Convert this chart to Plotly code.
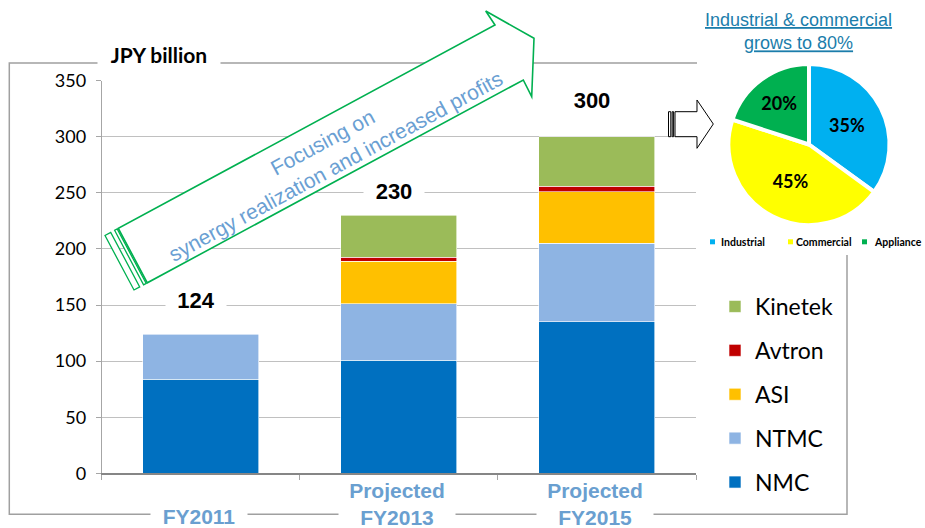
import plotly.graph_objects as go

# ---------------- data ----------------
categories = ["FY2011", "FY2013", "FY2015"]
category_labels = ["FY2011", "Projected<br>FY2013", "Projected<br>FY2015"]
nmc = [84, 101, 135]
ntmc = [40, 50, 70]
asi = [None, 38, 46]
avtron = [None, 3.5, 5]
kinetek = [None, 37.5, 44]
total_labels = ["124", "230", "300"]

pie_labels = ["Industrial", "Commercial", "Appliance"]
pie_values = [35, 45, 20]

# ---------------- helpers (pixel -> paper) ----------------
W, H = 925, 528


def fx(x):
    return x / W


def fy(y):
    return 1 - y / H


series = [
    ("NMC", nmc, "#0070C0"),
    ("NTMC", ntmc, "#8EB4E3"),
    ("ASI", asi, "#FFC000"),
    ("Avtron", avtron, "#C00000"),
    ("Kinetek", kinetek, "#9BBB59"),
]

fig = go.Figure()
for i, (name, vals, col) in enumerate(series):
    fig.add_trace(go.Bar(
        x=categories, y=vals, name=name, legendgroup=name,
        legendrank=100 - i,
        marker=dict(color=col, line=dict(color="white", width=0.6)),
        hoverinfo="skip",
    ))

fig.add_trace(go.Pie(
    labels=pie_labels, values=pie_values, sort=False, direction="clockwise",
    rotation=0,
    marker=dict(colors=["#00B0F0", "#FFFF00", "#00B050"], line=dict(color="white", width=4)),
    texttemplate="<b>%{percent:.0%}</b>", textposition="inside",
    insidetextorientation="horizontal",
    textfont=dict(family="Lato", size=18, color="black"),
    domain=dict(x=[fx(728), fx(890)], y=[fy(225), fy(64)]),
    showlegend=False, hoverinfo="skip",
))

grid_col = "#C0C0C0"
axis_col = "#A6A6A6"

fig.update_layout(
    width=W, height=H,
    margin=dict(l=0, r=0, t=0, b=0, autoexpand=False),
    paper_bgcolor="white", plot_bgcolor="rgba(0,0,0,0)",
    barmode="stack", bargap=0.414,
    showlegend=True,
    legend=dict(
        x=fx(715), xanchor="left", y=fy(285), yanchor="top",
        font=dict(family="Lato", size=23, color="black"),
        traceorder="grouped", tracegroupgap=11,
        bgcolor="rgba(0,0,0,0)",
    ),
    xaxis=dict(
        domain=[fx(101.7), fx(696)], type="category",
        showticklabels=False, showgrid=False, zeroline=False,
        showline=True, linecolor="#868686", linewidth=2,
        ticks="outside", tickson="boundaries", ticklen=5, tickcolor="#A6A6A6",
        fixedrange=True, automargin=False,
    ),
    yaxis=dict(
        domain=[fy(473.3), fy(80.7)], range=[0, 350], dtick=50,
        showgrid=True, gridcolor=grid_col, gridwidth=1, zeroline=False,
        showline=True, linecolor=axis_col, linewidth=1,
        ticks="outside", ticklen=5, tickcolor=axis_col,
        tickfont=dict(family="Lato", size=18, color="black"),
        ticklabelstandoff=6,
        fixedrange=True, automargin=False,
    ),
)

shapes = []
# chart frame
shapes.append(dict(type="rect", xref="paper", yref="paper", layer="below",
                   x0=fx(9.3), x1=fx(847), y0=fy(514.3), y1=fy(63),
                   line=dict(color="#A0A0A0", width=1.5), fillcolor="rgba(0,0,0,0)"))
# white panel behind pie (covers frame corner)
shapes.append(dict(type="rect", xref="paper", yref="paper", layer="below",
                   x0=fx(697), x1=fx(925), y0=fy(255), y1=fy(0),
                   line=dict(width=0), fillcolor="white"))


def path(pts):
    s = "M " + " L ".join(f"{fx(x):.5f},{fy(y):.5f}" for x, y in pts) + " Z"
    return s


# big green arrow
body = [(118.3, 228.3), (147.3, 282.8), (523.3, 80), (531.7, 96.7),
        (534, 38.3), (485.7, 11), (495, 25)]
shapes.append(dict(type="path", xref="paper", yref="paper", layer="above",
                   path=path(body), fillcolor="white",
                   line=dict(color="#00B050", width=1.6)))


def y_upper(x):
    return 228.3 - 0.5397 * (x - 118.3)


def stripe(xa, xb):
    v = (29.0, 54.5)
    a = (xa, y_upper(xa))
    b = (xb, y_upper(xb))
    return [a, (a[0] + v[0], a[1] + v[1]), (b[0] + v[0], b[1] + v[1]), b]


for xa, xb in [(105, 110.7), (114.6, 117.2)]:
    shapes.append(dict(type="path", xref="paper", yref="paper", layer="above",
                       path=path(stripe(xa, xb)), fillcolor="white",
                       line=dict(color="#00B050", width=1.3)))

# small black block arrow toward the pie
small = [(675, 111.7), (697, 111.7), (697, 100), (713.3, 124),
         (697, 148.3), (697, 136.7), (675, 136.7)]
shapes.append(dict(type="path", xref="paper", yref="paper", layer="above",
                   path=path(small), fillcolor="white",
                   line=dict(color="black", width=1)))
for xa, xb in [(668.5, 670.8), (672.2, 673.6)]:
    shapes.append(dict(type="rect", xref="paper", yref="paper", layer="above",
                       x0=fx(xa), x1=fx(xb), y0=fy(136.7), y1=fy(111.7),
                       fillcolor="white", line=dict(color="black", width=1)))

# pie legend swatches
pie_cols = ["#00B0F0", "#FFFF00", "#00B050"]
sw_x = [710, 788, 862]
for c, x0 in zip(pie_cols, sw_x):
    shapes.append(dict(type="rect", xref="paper", yref="paper", layer="above",
                       x0=fx(x0), x1=fx(x0 + 5), y0=fy(244.3), y1=fy(239.3),
                       fillcolor=c, line=dict(width=0)))

fig.update_layout(shapes=shapes)

C = dict(xanchor="center", yanchor="middle", showarrow=False)
ann = []
# y-axis unit title
ann.append(dict(xref="paper", yref="paper", x=fx(159), y=fy(54), text="<b>JPY billion</b>",
                font=dict(family="Lato", size=21, color="black"),
                bgcolor="white", width=116, height=24, borderpad=3, **C))

# totals above bars
shifts = [34, 24, 37]
totals = [sum(v for v in vals if v is not None) for vals in zip(nmc, ntmc, asi, avtron, kinetek)]
for cat, tot, lab, sh in zip(categories, totals, total_labels, shifts):
    ann.append(dict(xref="x", yref="y", x=cat, y=tot, yshift=sh, xshift=-5,
                    text=f"<b>{lab}</b>",
                    font=dict(family="Liberation Sans", size=22, color="black"),
                    bgcolor="white", width=52, height=36, borderpad=4, **C))

# category labels
for cat, lab in zip(categories, category_labels):
    two = "<br>" in lab
    ann.append(dict(xref="x", yref="paper", x=cat, xshift=-2,
                    y=fy(503.5) if two else fy(516.5),
                    text=f"<b>{lab}</b>",
                    font=dict(family="Liberation Sans", size=21, color="#6A9FD0"),
                    bgcolor="white", width=112 if two else 92, borderpad=2, **C))

# arrow text
ann.append(dict(xref="paper", yref="paper", x=fx(329), y=fy(154),
                text="Focusing on<br>synergy realization and increased profits",
                textangle=-28.4,
                font=dict(family="Liberation Sans", size=21, color="#6A9FD3"), **C))

# pie title
ann.append(dict(xref="paper", yref="paper", x=fx(798.5), y=fy(31.5),
                text="<u>Industrial & commercial</u><br><u>grows to 80%</u>",
                font=dict(family="Liberation Sans", size=18, color="#1B7DAB"), **C))

# pie legend texts
for lab, x0 in zip(pie_labels, [719, 794, 872]):
    ann.append(dict(xref="paper", yref="paper", x=fx(x0), y=fy(241.8), xanchor="left",
                    yanchor="middle", showarrow=False,
                    text=f"<b>{lab}</b>",
                    font=dict(family="Lato", size=10.5, color="black")))

fig.update_layout(annotations=ann)

fig.write_html("out.html", config={"displayModeBar": False},
               post_script="document.body.style.margin='0';document.body.style.overflow='hidden';")
